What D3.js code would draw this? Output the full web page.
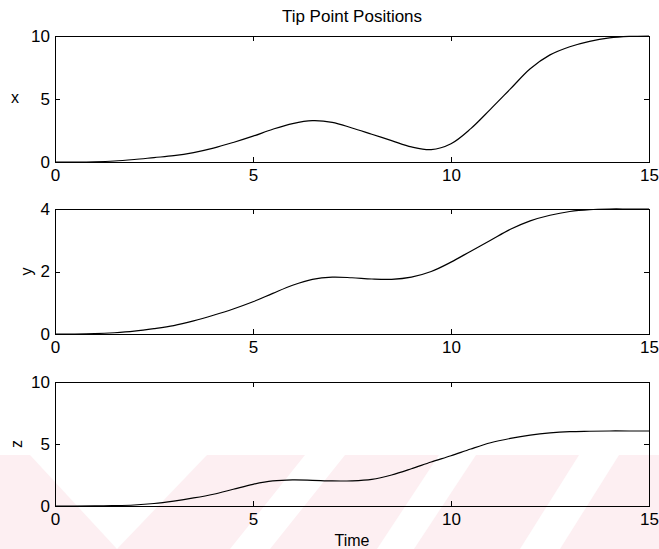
<!DOCTYPE html>
<html>
<head>
<meta charset="utf-8">
<script src="https://cdn.jsdelivr.net/npm/d3@7"></script>
<style>
    body { margin: 0; background: #fff; }
    svg { display: block; font-family: "Liberation Sans", Arial, Helvetica, sans-serif; }
    .axis path, .axis line { stroke: #000; stroke-width: 1; shape-rendering: crispEdges; }
    .axis text { font-size: 17px; fill: #000; }
    .curve { fill: none; stroke: #000; stroke-width: 1.2; }
    .label { font-size: 16px; fill: #000; }
    .title { font-size: 17px; fill: #000; }
</style>
</head>
<body>
<div id="chart"></div>
<script>

// time samples (s)
var time = [0, 0.5, 1, 1.5, 2, 2.5, 3, 3.5, 4, 4.5, 5, 5.5, 6, 6.5, 7, 7.5,
    8, 8.5, 9, 9.5, 10, 10.5, 11, 11.5, 12, 12.5, 13, 13.5, 14, 14.5, 15];

// tip point positions
var xPos = [0, 0, 0.02, 0.08, 0.2, 0.35, 0.5, 0.75, 1.1, 1.55, 2.05, 2.6, 3.05, 3.28, 3.15, 2.7,
    2.2, 1.7, 1.2, 0.98, 1.45, 2.65, 4.2, 5.8, 7.4, 8.5, 9.15, 9.58, 9.85, 9.97, 10];
var yPos = [0, 0, 0.01, 0.04, 0.09, 0.17, 0.27, 0.42, 0.6, 0.8, 1.03, 1.3, 1.56, 1.75, 1.82, 1.8,
    1.76, 1.75, 1.82, 2.0, 2.3, 2.65, 3.0, 3.35, 3.62, 3.8, 3.92, 3.98, 4.0, 4.0, 4.0];
var zPos = [0, 0, 0.01, 0.03, 0.08, 0.2, 0.4, 0.65, 0.95, 1.35, 1.75, 2.02, 2.1, 2.07, 2.02, 2.03,
    2.15, 2.5, 3.0, 3.55, 4.05, 4.6, 5.1, 5.45, 5.72, 5.9, 6.0, 6.03, 6.05, 6.05, 6.05];

var timeTicks = [0, 5, 10, 15];
var xTicks = [0, 5, 10];
var yTicks = [0, 2, 4];
var zTicks = [0, 5, 10];

var title = "Tip Point Positions";
var xLabel = "Time";

var width = 659, height = 549;

var svg = d3.select("#chart").append("svg")
    .attr("width", width)
    .attr("height", height);

// pale pink watermark band at the bottom of the scan
var wm = svg.append("g");
wm.append("rect")
    .attr("x", 0).attr("y", 455)
    .attr("width", width).attr("height", height - 455)
    .attr("fill", "#fdeff2");
var stripes = [
    [[30, 455], [207, 455], [117, 549]],
    [[305, 455], [345, 455], [270, 549], [230, 549]],
    [[439, 455], [476, 455], [414, 549], [377, 549]],
    [[579, 455], [619, 455], [560, 549], [520, 549]]
];
wm.selectAll("polygon")
    .data(stripes)
    .enter().append("polygon")
    .attr("points", function (d) { return d.map(function (p) { return p.join(","); }).join(" "); })
    .attr("fill", "#fff");

var left = 55, right = 649;

var x = d3.scaleLinear()
    .domain([0, 15])
    .range([left, right]);

var fmt = function (d) { return String(d); };

var panels = [
    {values: xPos, ticks: xTicks, max: 10, top: 36, bottom: 162, name: "x", labelX: 15, rotate: false},
    {values: yPos, ticks: yTicks, max: 4, top: 209, bottom: 334, name: "y", labelX: 26, rotate: true},
    {values: zPos, ticks: zTicks, max: 10, top: 382, bottom: 506, name: "z", labelX: 16, rotate: true}
];

panels.forEach(function (p) {
    var y = d3.scaleLinear()
        .domain([0, p.max])
        .range([p.bottom, p.top]);

    var g = svg.append("g");

    // bottom axis with labels, ticks pointing into the box
    g.append("g")
        .attr("class", "axis")
        .attr("transform", "translate(0," + p.bottom + ")")
        .call(d3.axisBottom(x).tickValues(timeTicks).tickFormat(fmt)
            .tickSizeInner(-5).tickSizeOuter(0).tickPadding(7));
    // top axis, no labels
    g.append("g")
        .attr("class", "axis")
        .attr("transform", "translate(0," + p.top + ")")
        .call(d3.axisTop(x).tickValues(timeTicks).tickSizeInner(-5).tickSizeOuter(0).tickFormat(""));
    // left axis
    g.append("g")
        .attr("class", "axis")
        .attr("transform", "translate(" + left + ",0)")
        .call(d3.axisLeft(y).tickValues(p.ticks).tickFormat(fmt)
            .tickSizeInner(-5).tickSizeOuter(0).tickPadding(5));
    // right axis
    g.append("g")
        .attr("class", "axis")
        .attr("transform", "translate(" + right + ",0)")
        .call(d3.axisRight(y).tickValues(p.ticks).tickSizeInner(-5).tickSizeOuter(0).tickFormat(""));

    var line = d3.line()
        .x(function (d, i) { return x(time[i]); })
        .y(function (d) { return y(d); })
        .curve(d3.curveCatmullRom.alpha(0.5));

    g.append("path")
        .datum(p.values)
        .attr("class", "curve")
        .attr("d", line);

    var cy = (p.top + p.bottom) / 2;
    var lab = g.append("text")
        .attr("class", "label")
        .attr("text-anchor", "middle")
        .attr("dy", "0.35em")
        .text(p.name);
    if (p.rotate) {
        lab.attr("transform", "translate(" + p.labelX + "," + cy + ") rotate(-90)");
    } else {
        lab.attr("x", p.labelX).attr("y", cy - 2);
    }
});

svg.append("text")
    .attr("class", "title")
    .attr("x", (left + right) / 2)
    .attr("y", 22)
    .attr("text-anchor", "middle")
    .text(title);

svg.append("text")
    .attr("class", "label")
    .attr("x", (left + right) / 2)
    .attr("y", 546)
    .attr("text-anchor", "middle")
    .text(xLabel);

</script>
</body>
</html>
